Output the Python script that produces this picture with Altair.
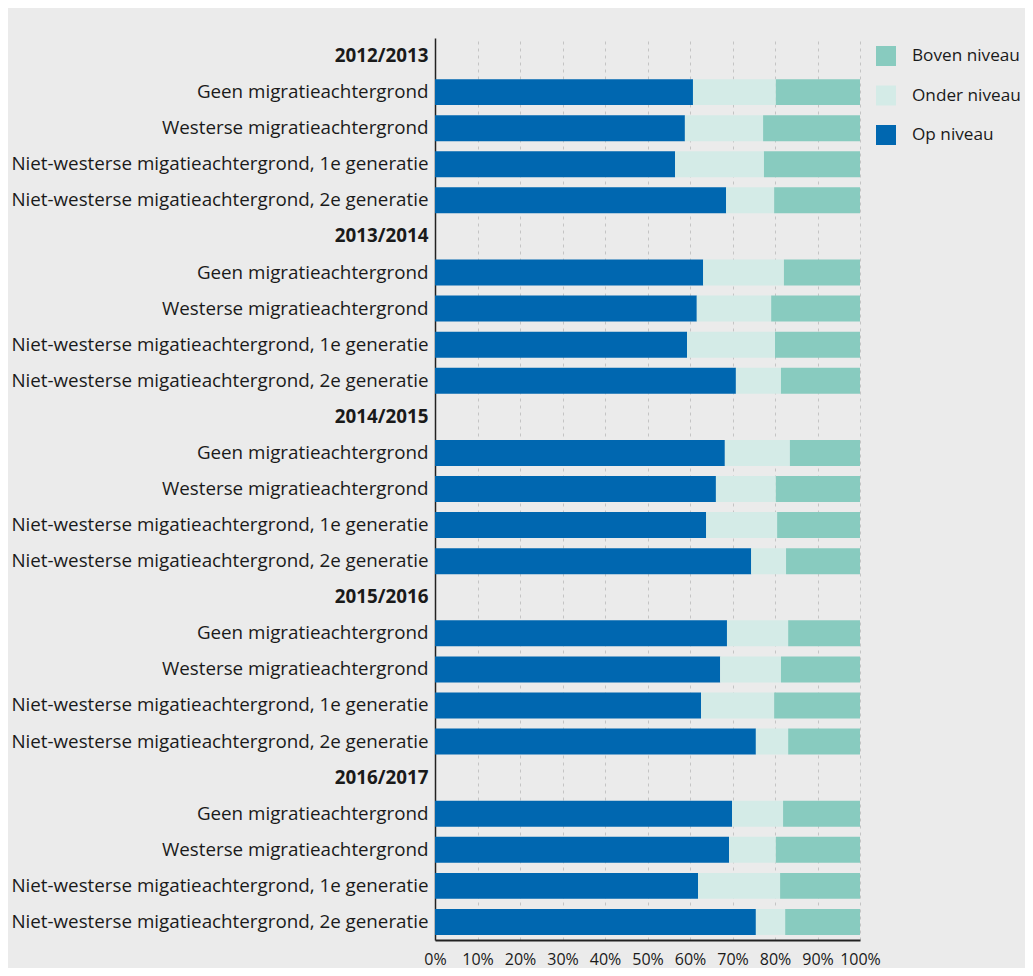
import altair as alt
import pandas as pd

years = ["2012/2013", "2013/2014", "2014/2015", "2015/2016", "2016/2017"]
groups = [
    "Geen migratieachtergrond",
    "Westerse migratieachtergrond",
    "Niet-westerse migatieachtergrond, 1e generatie",
    "Niet-westerse migatieachtergrond, 2e generatie",
]
series = ["Boven niveau", "Onder niveau", "Op niveau"]
colors = ["#88cbbf", "#d4ebe7", "#0067b0"]

# values per year, per group (percent)
op_niveau = [
    [60.7, 58.8, 56.5, 68.5],
    [63.1, 61.6, 59.3, 70.8],
    [68.2, 66.1, 63.8, 74.4],
    [68.7, 67.1, 62.6, 75.5],
    [69.9, 69.2, 61.9, 75.5],
]
onder_niveau = [
    [19.5, 18.4, 20.9, 11.3],
    [19.0, 17.5, 20.7, 10.6],
    [15.3, 14.1, 16.7, 8.2],
    [14.4, 14.3, 17.2, 7.6],
    [12.0, 11.0, 19.3, 6.9],
]
boven_niveau = [
    [19.8, 22.8, 22.6, 20.2],
    [17.9, 20.9, 20.0, 18.6],
    [16.5, 19.8, 19.5, 17.4],
    [16.9, 18.6, 20.2, 16.9],
    [18.1, 19.8, 18.8, 17.6],
]
x_ticks = [0, 10, 20, 30, 40, 50, 60, 70, 80, 90, 100]

rows = []
domain = []
for yi, yr in enumerate(years):
    domain.append(yr)
    for gi, g in enumerate(groups):
        key = yr + "|" + g
        domain.append(key)
        for order, (name, arr) in enumerate(
            [("Op niveau", op_niveau), ("Onder niveau", onder_niveau), ("Boven niveau", boven_niveau)]
        ):
            rows.append({"key": key, "serie": name, "value": arr[yi][gi], "ord": order})
df = pd.DataFrame(rows)

FONT = "Open Sans"

chart = alt.Chart(df).mark_bar().encode(
    y=alt.Y(
        "key:N",
        sort=domain,
        scale=alt.Scale(domain=domain, paddingInner=0.28, paddingOuter=0.14),
        axis=alt.Axis(
            title=None,
            ticks=False,
            grid=False,
            labelFontSize=18.8,
            labelFont=FONT,
            labelColor="#1a1a1a",
            labelPadding=7,
            labelLimit=600,
            domainColor="#222222",
            domainWidth=1.5,
            labelExpr="indexof(datum.label, '|') >= 0 ? split(datum.label, '|')[1] : datum.label",
            labelFontWeight=alt.ExprRef(expr="indexof(datum.value, '|') >= 0 ? 'normal' : 'bold'"),
        ),
    ),
    x=alt.X(
        "value:Q",
        stack="zero",
        scale=alt.Scale(domain=[0, 100], nice=False),
        axis=alt.Axis(
            title=None,
            values=x_ticks,
            ticks=False,
            grid=True,
            gridDash=[3, 4],
            gridColor="#c4c4c4",
            gridWidth=1,
            labelFontSize=16,
            labelFont=FONT,
            labelColor="#1a1a1a",
            labelPadding=11,
            labelBaseline="top",
            labelFlush=False,
            labelOverlap=False,
            labelExpr="datum.value + '%'",
            domainColor="#222222",
            domainWidth=2,
        ),
    ),
    color=alt.Color(
        "serie:N",
        scale=alt.Scale(domain=series, range=colors),
        legend=alt.Legend(
            title=None,
            orient="none",
            legendX=441,
            legendY=8,
            symbolType="square",
            symbolSize=400,
            symbolStrokeWidth=0,
            symbolOpacity=1,
            labelFontSize=17.2,
            labelFont=FONT,
            labelColor="#1a1a1a",
            labelOffset=16,
            labelLimit=300,
            rowPadding=19.5,
            padding=0,
        ),
    ),
    order=alt.Order("ord:Q", sort="ascending"),
).properties(
    width=425,
    height=902,
    background="#ebebeb",
    autosize=alt.AutoSizeParams(type="none"),
    padding={"left": 427, "top": 30, "right": 165, "bottom": 28},
).configure_view(stroke=None)

chart.save("out.html", embed_options={"renderer": "svg", "actions": False})
